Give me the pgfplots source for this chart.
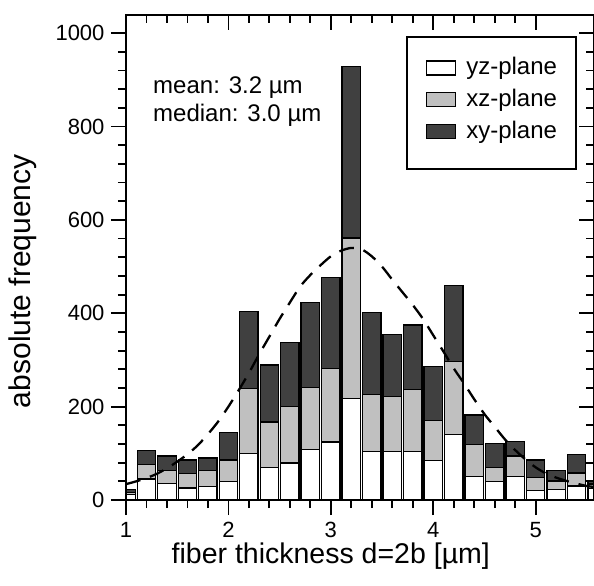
\documentclass[border=0pt]{standalone}
\usepackage{fontspec}
\setmainfont{Liberation Sans}
\usepackage{pgfplots}
\usepackage{pgfplotstable}
\pgfplotsset{compat=1.18}
\definecolor{lgray}{RGB}{192,192,192}
\definecolor{dgray}{RGB}{64,64,64}

\pgfplotstableread{
x white gray dark
1.0 12 4 7
1.2 45 31 30
1.4 36 27 31
1.6 26 31 29
1.8 29 34 27
2.0 40 46 59
2.2 99 140 165
2.4 70 97 122
2.6 79 122 136
2.8 108 133 182
3.0 124 157 195
3.2 218 343 368
3.4 104 122 175
3.6 104 117 134
3.8 104 133 138
4.0 84 87 115
4.2 141 155 163
4.4 50 69 63
4.6 39 31 51
4.8 51 43 31
5.0 21 27 38
5.2 22 19 22
5.4 30 28 39
5.6 25 9 8
}\bars

\pgfplotstableread{
x y
1.0 34
1.1 40
1.2 47
1.3 56
1.4 68
1.5 82
1.6 98
1.7 117
1.8 141
1.9 168
2.0 200
2.1 235
2.2 272
2.3 312
2.4 350
2.5 388
2.6 423
2.7 457
2.8 482
2.9 503
3.0 522
3.1 534
3.2 540
3.3 537
3.4 522
3.5 500
3.6 472
3.7 445
3.8 418
3.9 388
4.0 353
4.1 318
4.2 282
4.3 250
4.4 216
4.5 184
4.6 157
4.7 130
4.8 107
4.9 87
5.0 70
5.1 57
5.2 48
5.3 41
5.4 35
5.5 30
5.57 28
}\fit

\begin{document}
\begin{tikzpicture}
\pgfplotsset{
  common/.style={
    scale only axis, width=468bp, height=485bp,
    xmin=1, xmax=5.57, ymin=0, ymax=1039,
    xtick={1,2,3,4,5}, ytick={0,200,...,1000},
    minor x tick num=4, minor y tick num=4,
    axis line style={line width=2bp},
    major tick length=15bp, minor tick length=8bp,
    tick style={black, line width=1.8bp},
    /pgf/number format/assume math mode=true,
    /pgf/number format/1000 sep={},
    tick label style={font=\fontsize{22bp}{26bp}\selectfont},
  }
}
\begin{axis}[common,
  tick align=outside, xtick pos=left, ytick pos=left,
  xticklabel style={inner sep=0pt, yshift=-7bp},
  yticklabel style={xshift=-3bp},
  ybar stacked, bar width=0.18,
  xlabel={fiber thickness d=2b [µm]},
  ylabel={absolute frequency},
  xlabel style={font=\fontsize{28.5bp}{34bp}\selectfont, inner sep=0pt, at={(axis description cs:0.4376,-0.1299)}, anchor=base},
  ylabel style={font=\fontsize{30bp}{36bp}\selectfont, at={(axis description cs:-0.203,0.451)}, anchor=base},
  legend style={at={(axis description cs:1,1)}, anchor=north east, xshift=-17bp, yshift=-21bp,
    draw=black, line width=2bp, fill=white,
    font=\fontsize{24bp}{28bp}\selectfont,
    inner xsep=19bp, inner ysep=20.5bp, row sep=5bp, column sep=10bp,
    nodes={inner sep=0pt, text depth=9.5bp}},
  legend cell align=left,
  legend image code/.code={\draw[#1, line width=1.3bp] (0bp,-4bp) rectangle (29bp,10bp);},
]
\addplot[fill=white, draw=black, line width=1.3bp] table[x=x, y=white]{\bars};
\addplot[fill=lgray, draw=black, line width=1.3bp] table[x=x, y=gray]{\bars};
\addplot[fill=dgray, draw=black, line width=1.3bp] table[x=x, y=dark]{\bars};
\legend{yz-plane, xz-plane, xy-plane}
\node[anchor=base west, inner sep=0pt, font=\fontsize{24bp}{28bp}\selectfont] at (axis cs:1.264,871) {mean: 3.2 µm};
\node[anchor=base west, inner sep=0pt, font=\fontsize{24bp}{28bp}\selectfont] at (axis cs:1.264,810.6) {median: 3.0 µm};
\coordinate (ll) at (rel axis cs:0,0);
\coordinate (ur) at (rel axis cs:1,1);
\end{axis}
\begin{axis}[common,
  tick align=inside, xtick pos=right, ytick pos=right,
  xticklabels={}, yticklabels={},
]
\addplot[black, line width=2.3bp, dash pattern=on 15bp off 10bp, smooth] table[x=x, y=y]{\fit};
\end{axis}
\pgfresetboundingbox
\path ([shift={(-126bp,-86bp)}]ll) rectangle ([shift={(0bp,15bp)}]ur);
\end{tikzpicture}
\end{document}
